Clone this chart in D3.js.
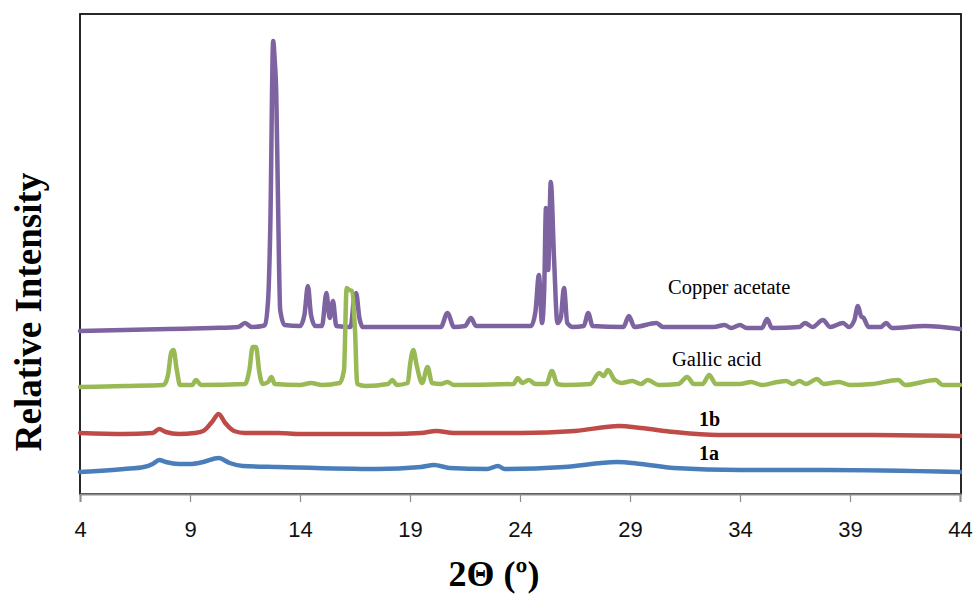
<!DOCTYPE html>
<html>
<head>
<meta charset="utf-8">
<script src="https://cdn.jsdelivr.net/npm/d3@7"></script>
<style>
  body { margin: 0; background: #fff; }
  .tick text { font-family: "Liberation Sans", "DejaVu Sans", sans-serif; }
  .series-label { font-family: "Liberation Serif", "DejaVu Serif", serif; }
</style>
</head>
<body>
<div id="chart"></div>
<script>
// Tick values of the 2-theta axis
const xTicks = [4, 9, 14, 19, 24, 29, 34, 39, 44];

// Diffraction patterns: [2theta, intensity (a.u.)]
const copperAcetate = [
  [4.0, 163], [6.0, 164], [8.0, 165], [10.0, 166], [11.2, 167], [11.5, 171], [11.8, 167],
  [12.3, 168], [12.4, 169], [12.55, 194], [12.65, 267], [12.78, 453], [12.85, 434], [12.92, 401],
  [13.0, 294], [13.1, 184], [13.3, 169], [14.0, 168], [14.2, 179], [14.36, 208], [14.5, 179],
  [14.7, 168], [15.0, 168], [15.2, 201], [15.35, 176], [15.5, 193], [15.65, 168], [16.3, 167],
  [16.45, 194], [16.55, 201], [16.7, 176], [16.85, 167], [18.0, 167], [20.4, 167], [20.7, 181],
  [21.0, 167], [21.5, 168], [21.77, 176], [22.0, 168], [24.5, 168], [24.7, 182], [24.86, 219],
  [25.0, 171], [25.1, 204], [25.18, 286], [25.28, 224], [25.4, 312], [25.55, 234], [25.7, 171],
  [25.85, 176], [26.0, 206], [26.15, 171], [26.4, 167], [26.9, 168], [27.1, 181], [27.3, 168],
  [28.7, 167], [28.95, 178], [29.2, 167], [30.2, 171], [30.5, 167], [32.8, 167], [33.3, 169],
  [33.6, 166], [34.0, 169], [34.3, 166], [35.0, 166], [35.23, 175], [35.45, 166], [36.7, 167],
  [36.95, 171], [37.3, 167], [37.77, 174], [38.1, 167], [38.68, 171], [38.95, 167], [39.2, 174],
  [39.36, 188], [39.5, 178], [39.62, 176], [39.85, 167], [40.4, 167], [40.64, 171], [40.9, 166],
  [42.4, 168], [44.0, 165]
];

const gallicAcid = [
  [4.0, 107], [6.0, 108], [7.8, 109], [8.0, 119], [8.15, 142], [8.25, 144], [8.4, 124], [8.55, 109],
  [9.1, 109], [9.27, 114], [9.5, 109], [11.5, 110], [11.7, 124], [11.85, 147], [12.0, 147],
  [12.15, 122], [12.3, 110], [12.55, 112], [12.7, 117], [12.85, 110], [14.0, 109], [14.5, 111],
  [15.0, 109], [15.8, 111], [16.0, 124], [16.12, 206], [16.25, 204], [16.36, 203], [16.5, 164],
  [16.6, 110], [17.0, 108], [18.0, 110], [18.2, 114], [18.4, 109], [18.9, 111], [19.0, 129],
  [19.15, 144], [19.3, 129], [19.55, 111], [19.8, 127], [20.0, 111], [20.4, 110], [20.7, 112],
  [21.0, 109], [23.7, 110], [23.9, 116], [24.1, 111], [24.4, 114], [24.7, 110], [25.2, 110],
  [25.45, 123], [25.7, 110], [26.0, 109], [27.2, 110], [27.6, 121], [27.8, 118], [28.0, 124],
  [28.3, 114], [28.6, 111], [29.1, 113], [29.5, 110], [29.8, 114], [30.3, 109], [31.2, 110],
  [31.6, 117], [31.9, 110], [32.3, 110], [32.6, 119], [32.9, 110], [34.0, 110], [34.5, 112],
  [35.0, 109], [35.7, 112], [36.1, 113], [36.4, 110], [36.7, 113], [37.0, 110], [37.5, 115],
  [37.8, 110], [38.5, 112], [39.0, 109], [40.0, 110], [41.2, 114], [41.5, 109], [42.9, 114],
  [43.2, 109], [44.0, 109]
];

const sample1b = [
  [4.0, 61], [6.0, 60], [7.3, 61], [7.6, 65], [7.9, 62], [8.5, 60], [9.2, 61], [9.6, 63],
  [10.0, 72], [10.3, 80], [10.6, 71], [11.0, 63], [11.5, 61], [13.0, 61], [14.0, 60], [18.0, 60],
  [19.5, 61], [20.2, 63], [21.0, 61], [24.0, 61], [26.5, 63], [28.5, 68], [29.5, 66], [31.0, 62],
  [33.0, 59], [36.0, 59], [40.0, 59], [44.0, 58]
];

const sample1a = [
  [4.0, 22], [6.0, 25], [6.9, 27], [7.3, 30], [7.6, 34], [7.9, 32], [8.5, 30], [9.0, 30],
  [9.6, 32], [10.3, 36], [10.8, 31], [11.4, 28], [13.0, 27], [17.5, 25], [19.5, 27], [20.1, 29],
  [20.8, 26], [22.5, 25], [23.0, 28], [23.3, 25], [26.0, 27], [28.4, 32], [29.5, 30], [31.0, 26],
  [34.0, 24], [38.0, 24], [44.0, 22]
];

const seriesNames = ["1a", "1b", "Copper acetate", "Gallic acid"];
const seriesData = [sample1a, sample1b, copperAcetate, gallicAcid];
const seriesColors = ["#4a7ebb", "#be4b48", "#7e63a1", "#98b954"];

// Chart dimensions
const W = 977, H = 596;
const margin = {top: 14, right: 16, bottom: 102, left: 80};
const width = W - margin.left - margin.right;
const height = H - margin.top - margin.bottom;

const svg = d3.select("#chart")
    .append("svg")
    .attr("width", W)
    .attr("height", H)
    .append("g")
    .attr("transform", `translate(${margin.left},${margin.top})`);

// Scales
const x = d3.scaleLinear().domain([4, 44]).range([0, 880]);
const y = d3.scaleLinear().domain([0, 480]).range([height, 0]);

// Plot frame
svg.append("rect")
    .attr("x", 0)
    .attr("y", 0)
    .attr("width", width)
    .attr("height", height)
    .attr("fill", "none")
    .attr("stroke", "#111")
    .attr("stroke-width", 1.8);

// Traces
const line = d3.line()
    .x(d => x(d[0]))
    .y(d => y(d[1]))
    .curve(d3.curveMonotoneX);

svg.selectAll(".trace")
    .data(seriesData)
    .enter().append("path")
    .attr("class", "trace")
    .attr("d", line)
    .attr("fill", "none")
    .attr("stroke", (d, i) => seriesColors[i])
    .attr("stroke-width", 4.5)
    .attr("stroke-linejoin", "round")
    .attr("stroke-linecap", "round");

// X axis
const xAxis = svg.append("g")
    .attr("transform", `translate(0,${height})`)
    .call(d3.axisBottom(x).tickValues(xTicks).tickSize(8).tickPadding(19).tickFormat(d3.format("d")));

xAxis.select(".domain").attr("stroke", "#8c8c8c").attr("stroke-width", 2);
xAxis.selectAll(".tick line").attr("stroke", "#8c8c8c").attr("stroke-width", 1.2);
xAxis.selectAll(".tick text").attr("font-size", 22).attr("fill", "#111");

// Series labels
const labelPos = [
    {x: 699, y: 460, bold: true, size: 20},
    {x: 699, y: 426, bold: true, size: 20},
    {x: 668, y: 294, bold: false, size: 20.5},
    {x: 672, y: 366, bold: false, size: 20.5}
];
svg.selectAll(".series-label")
    .data(seriesNames)
    .enter().append("text")
    .attr("class", "series-label")
    .attr("x", (d, i) => labelPos[i].x - margin.left)
    .attr("y", (d, i) => labelPos[i].y - margin.top)
    .attr("font-size", (d, i) => labelPos[i].size)
    .attr("font-weight", (d, i) => labelPos[i].bold ? "bold" : "normal")
    .attr("fill", "#000")
    .text(d => d);

// Axis titles
svg.append("text")
    .attr("x", 494 - margin.left)
    .attr("y", 586 - margin.top)
    .attr("text-anchor", "middle")
    .attr("font-family", "Liberation Serif, serif")
    .attr("font-weight", "bold")
    .attr("font-size", 36)
    .text("2Θ (º)");

svg.append("text")
    .attr("transform", "rotate(-90)")
    .attr("x", -(312 - margin.top))
    .attr("y", 41 - margin.left)
    .attr("text-anchor", "middle")
    .attr("font-family", "Liberation Serif, serif")
    .attr("font-weight", "bold")
    .attr("font-size", 37)
    .text("Relative Intensity");
</script>
</body>
</html>
